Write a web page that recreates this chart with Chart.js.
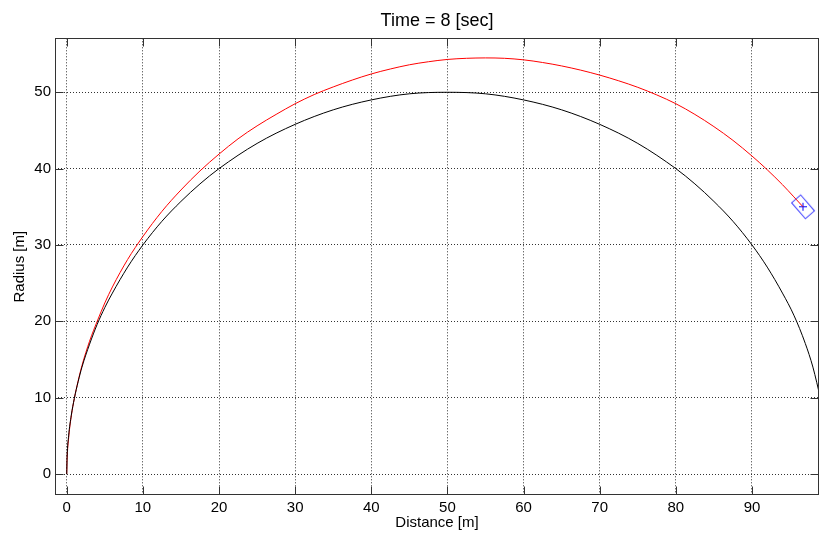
<!DOCTYPE html>
<html>
<head>
<meta charset="utf-8">
<title>Time = 8 [sec]</title>
<script src="https://cdn.jsdelivr.net/npm/chart.js@4.4.1/dist/chart.umd.min.js"></script>
<style>
    html, body { margin: 0; padding: 0; background: #fff; }
    #wrap { width: 821px; height: 550px; }
</style>
</head>
<body>
<div id="wrap"><canvas id="trajectoryChart"></canvas></div>
<script>
// Values
const xTicks = [0, 10, 20, 30, 40, 50, 60, 70, 80, 90];
const yTicks = [0, 10, 20, 30, 40, 50];

// Black curve
const blackX = [0, 0.05, 0.25, 0.6, 1, 1.5, 2, 3, 4, 5, 6, 8, 10, 12.5, 15, 17.5, 20, 25, 30, 35, 40, 45, 50,
    55, 60, 65, 70, 75, 80, 82.5, 85, 87.5, 90, 92, 94, 95.5, 97, 98, 99];
const blackY = [0, 2.2, 5, 7.7, 9.9, 12.1, 14, 17, 19.6, 21.8, 23.7, 27.1, 30, 33.1, 35.7, 38, 40, 43.3, 45.8, 47.7, 49, 49.8, 50,
    49.8, 49, 47.7, 45.8, 43.3, 40, 38, 35.7, 33.1, 30, 27.1, 23.7, 20.8, 17.1, 14, 9.9];

// Red curve
const redX = [0, 0.05, 0.25, 0.6, 1, 1.5, 2, 3, 4, 5, 6, 8, 10, 12.5, 15, 17.5, 20, 22.5, 25, 27.5, 30, 32.5,
    35, 37.5, 40, 42.5, 45, 47.5, 50, 52.5, 55, 57.5, 60, 62.5, 65, 67.5, 70, 72.5, 75, 77.5, 80, 82.5, 85,
    87.5, 90, 92, 94, 95.5, 96.7];
const redY = [0, 1.9, 4.7, 7.6, 9.9, 12.2, 14.2, 17.4, 20.0, 22.4, 24.5, 28.1, 31.1, 34.4, 37.2, 39.7, 41.9, 43.9, 45.6, 47.1, 48.5, 49.7,
    50.7, 51.6, 52.4, 53.05, 53.6, 54.0, 54.3, 54.45, 54.5, 54.45, 54.25, 53.9, 53.45, 52.9, 52.25, 51.5, 50.65, 49.65, 48.5, 47.1, 45.5,
    43.7, 41.65, 39.85, 37.9, 36.3, 35.0];

// Current position marker
const markerX = [96.7];
const markerY = [35.0];

const toPoints = (xs, ys) => xs.map((x, i) => ({ x: x, y: ys[i] }));

// Rotated box drawn around the marker
function makeBoxMarker() {
    const c = document.createElement('canvas');
    c.width = 28;
    c.height = 28;
    const g = c.getContext('2d');
    g.translate(14, 14);
    g.rotate(49 * Math.PI / 180);
    g.strokeStyle = '#3a3aff';
    g.lineWidth = 1;
    g.strokeRect(-10.5, -6, 21, 12);
    return c;
}

// Box round the axes with inward tick marks, MATLAB style
const axesBox = {
    id: 'axesBox',
    afterDatasetsDraw(chart) {
        const { ctx, chartArea: a, scales: { x, y } } = chart;
        const len = 8;
        const l = Math.round(a.left) + 0.5, r = Math.round(a.right) - 0.5;
        const t = Math.round(a.top) + 0.5, b = Math.round(a.bottom) - 0.5;
        ctx.save();
        ctx.strokeStyle = '#333';
        ctx.lineWidth = 1;
        ctx.strokeRect(l, t, r - l, b - t);
        ctx.beginPath();
        xTicks.forEach(v => {
            const px = Math.round(x.getPixelForValue(v)) + 0.5;
            ctx.moveTo(px, b); ctx.lineTo(px, b - len);
            ctx.moveTo(px, t); ctx.lineTo(px, t + len);
        });
        yTicks.forEach(v => {
            const py = Math.round(y.getPixelForValue(v)) + 0.5;
            ctx.moveTo(l, py); ctx.lineTo(l + len, py);
            ctx.moveTo(r, py); ctx.lineTo(r - len, py);
        });
        ctx.stroke();
        ctx.restore();
    }
};

const font = { family: "'Liberation Sans', Arial, sans-serif", size: 15 };

new Chart(document.getElementById('trajectoryChart'), {
    type: 'scatter',
    data: {
        datasets: [
            {
                data: toPoints(blackX, blackY),
                showLine: true,
                borderColor: '#000',
                borderWidth: 1,
                pointRadius: 0,
                cubicInterpolationMode: 'monotone',
                clip: 0
            },
            {
                data: toPoints(redX, redY),
                showLine: true,
                borderColor: '#ff0000',
                borderWidth: 1,
                pointRadius: 0,
                cubicInterpolationMode: 'monotone',
                clip: 0
            },
            {
                data: toPoints(markerX, markerY),
                pointStyle: makeBoxMarker(),
                pointRadius: 10
            },
            {
                data: toPoints(markerX, markerY),
                pointStyle: 'cross',
                pointRadius: 4,
                borderColor: '#0000ff',
                borderWidth: 1
            }
        ]
    },
    options: {
        responsive: true,
        maintainAspectRatio: false,
        animation: false,
        events: [],
        layout: { autoPadding: false, padding: { left: 0, right: 2, top: 0, bottom: 0 } },
        plugins: {
            legend: { display: false },
            tooltip: { enabled: false },
            title: {
                display: true,
                fullSize: false,
                text: 'Time = 8 [sec]',
                color: '#000',
                font: { family: font.family, size: 18, weight: 'normal' },
                padding: { top: 10, bottom: 6.7 }
            }
        },
        scales: {
            x: {
                type: 'linear',
                min: -1.54,
                max: 98.8,
                afterFit: scale => {
                    scale.height = 55;
                    scale.paddingLeft = 0;
                    scale.paddingRight = 0;
                },
                afterBuildTicks: scale => { scale.ticks = xTicks.map(v => ({ value: v })); },
                grid: { color: '#333', drawTicks: false },
                border: { display: false, dash: [1, 2] },
                ticks: { color: '#000', font: font, padding: 4, maxRotation: 0 },
                title: { display: true, text: 'Distance [m]', color: '#000', font: font, padding: { top: 0, bottom: 18 } }
            },
            y: {
                type: 'linear',
                min: -2.75,
                max: 57.07,
                afterFit: scale => {
                    scale.width = 55;
                    scale.paddingTop = 0;
                    scale.paddingBottom = 0;
                },
                afterBuildTicks: scale => { scale.ticks = yTicks.map(v => ({ value: v })); },
                grid: { color: '#333', drawTicks: false },
                border: { display: false, dash: [1, 2] },
                ticks: { color: '#000', font: font, padding: 4 },
                title: { display: true, text: 'Radius [m]', color: '#000', font: font, padding: { top: 11, bottom: 0 } }
            }
        }
    },
    plugins: [axesBox]
});
</script>
</body>
</html>
